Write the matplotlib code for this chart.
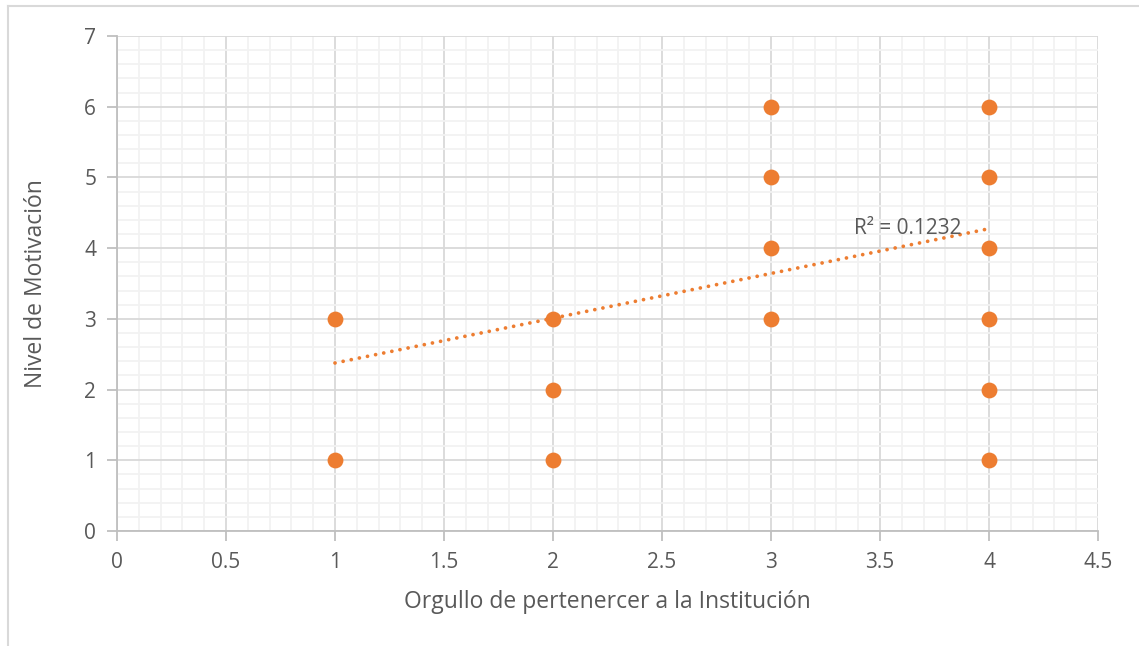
import matplotlib.pyplot as plt
from matplotlib.lines import Line2D
from matplotlib.ticker import MultipleLocator

# data
orgullo = [1, 1, 2, 2, 2, 3, 3, 3, 3, 4, 4, 4, 4, 4, 4]
motivacion = [3, 1, 3, 2, 1, 6, 5, 4, 3, 6, 5, 4, 3, 2, 1]

# linear trendline end points (as shown in the chart)
trend_x = [1, 4]
trend_y = [2.376, 4.275]
r2_label = "R² = 0.1232"

orange = "#ED7D31"
text_col = "#595959"

plt.rcParams['font.family'] = ['Open Sans', 'DejaVu Sans']

fig = plt.figure(figsize=(11.39, 6.46), dpi=100)
ax = fig.add_axes([117 / 1139, 115 / 646, 981 / 1139, 495 / 646])

# grid
ax.set_xlim(0, 4.5)
ax.set_ylim(0, 7)
ax.xaxis.set_major_locator(MultipleLocator(0.5))
ax.xaxis.set_minor_locator(MultipleLocator(0.1))
ax.yaxis.set_major_locator(MultipleLocator(1))
ax.yaxis.set_minor_locator(MultipleLocator(0.2))
ax.grid(which='minor', color='#f2f2f2', linewidth=1.3)
ax.grid(which='major', color='#d9d9d9', linewidth=1.3)
ax.set_axisbelow(True)

for side in ['top', 'right']:
    ax.spines[side].set_visible(False)
for side in ['left', 'bottom']:
    ax.spines[side].set_color('#bfbfbf')
    ax.spines[side].set_linewidth(1.3)

ax.tick_params(which='major', direction='out', length=7, width=1.3, color='#bfbfbf',
               labelsize=15, labelcolor=text_col, pad=8)
ax.tick_params(which='minor', length=0)
ax.set_xticks([0, 0.5, 1, 1.5, 2, 2.5, 3, 3.5, 4, 4.5])
ax.set_xticklabels(['0', '0.5', '1', '1.5', '2', '2.5', '3', '3.5', '4', '4.5'])

# points and trendline
ax.scatter(orgullo, motivacion, s=130, color=orange, zorder=3, linewidths=0)
ax.plot(trend_x, trend_y, color=orange, linewidth=2.7, linestyle=(0, (0.01, 2.2)),
        dash_capstyle='round', zorder=4)
ax.text(3.38, 4.28, r2_label, fontsize=15, color=text_col, ha='left', va='center', zorder=5)

ax.set_xlabel('Orgullo de pertenercer a la Institución', fontsize=16.5, color=text_col, labelpad=12)
ax.set_ylabel('Nivel de Motivación', fontsize=16.5, color=text_col, labelpad=26)

# chart area border
fig.add_artist(Line2D([8 / 1139, 1], [1 - 6 / 646, 1 - 6 / 646], transform=fig.transFigure,
                      color='#d9d9d9', linewidth=1.5))
fig.add_artist(Line2D([8 / 1139, 8 / 1139], [0, 1 - 6 / 646], transform=fig.transFigure,
                      color='#d9d9d9', linewidth=1.5))

fig.savefig('out.png', dpi=100)
